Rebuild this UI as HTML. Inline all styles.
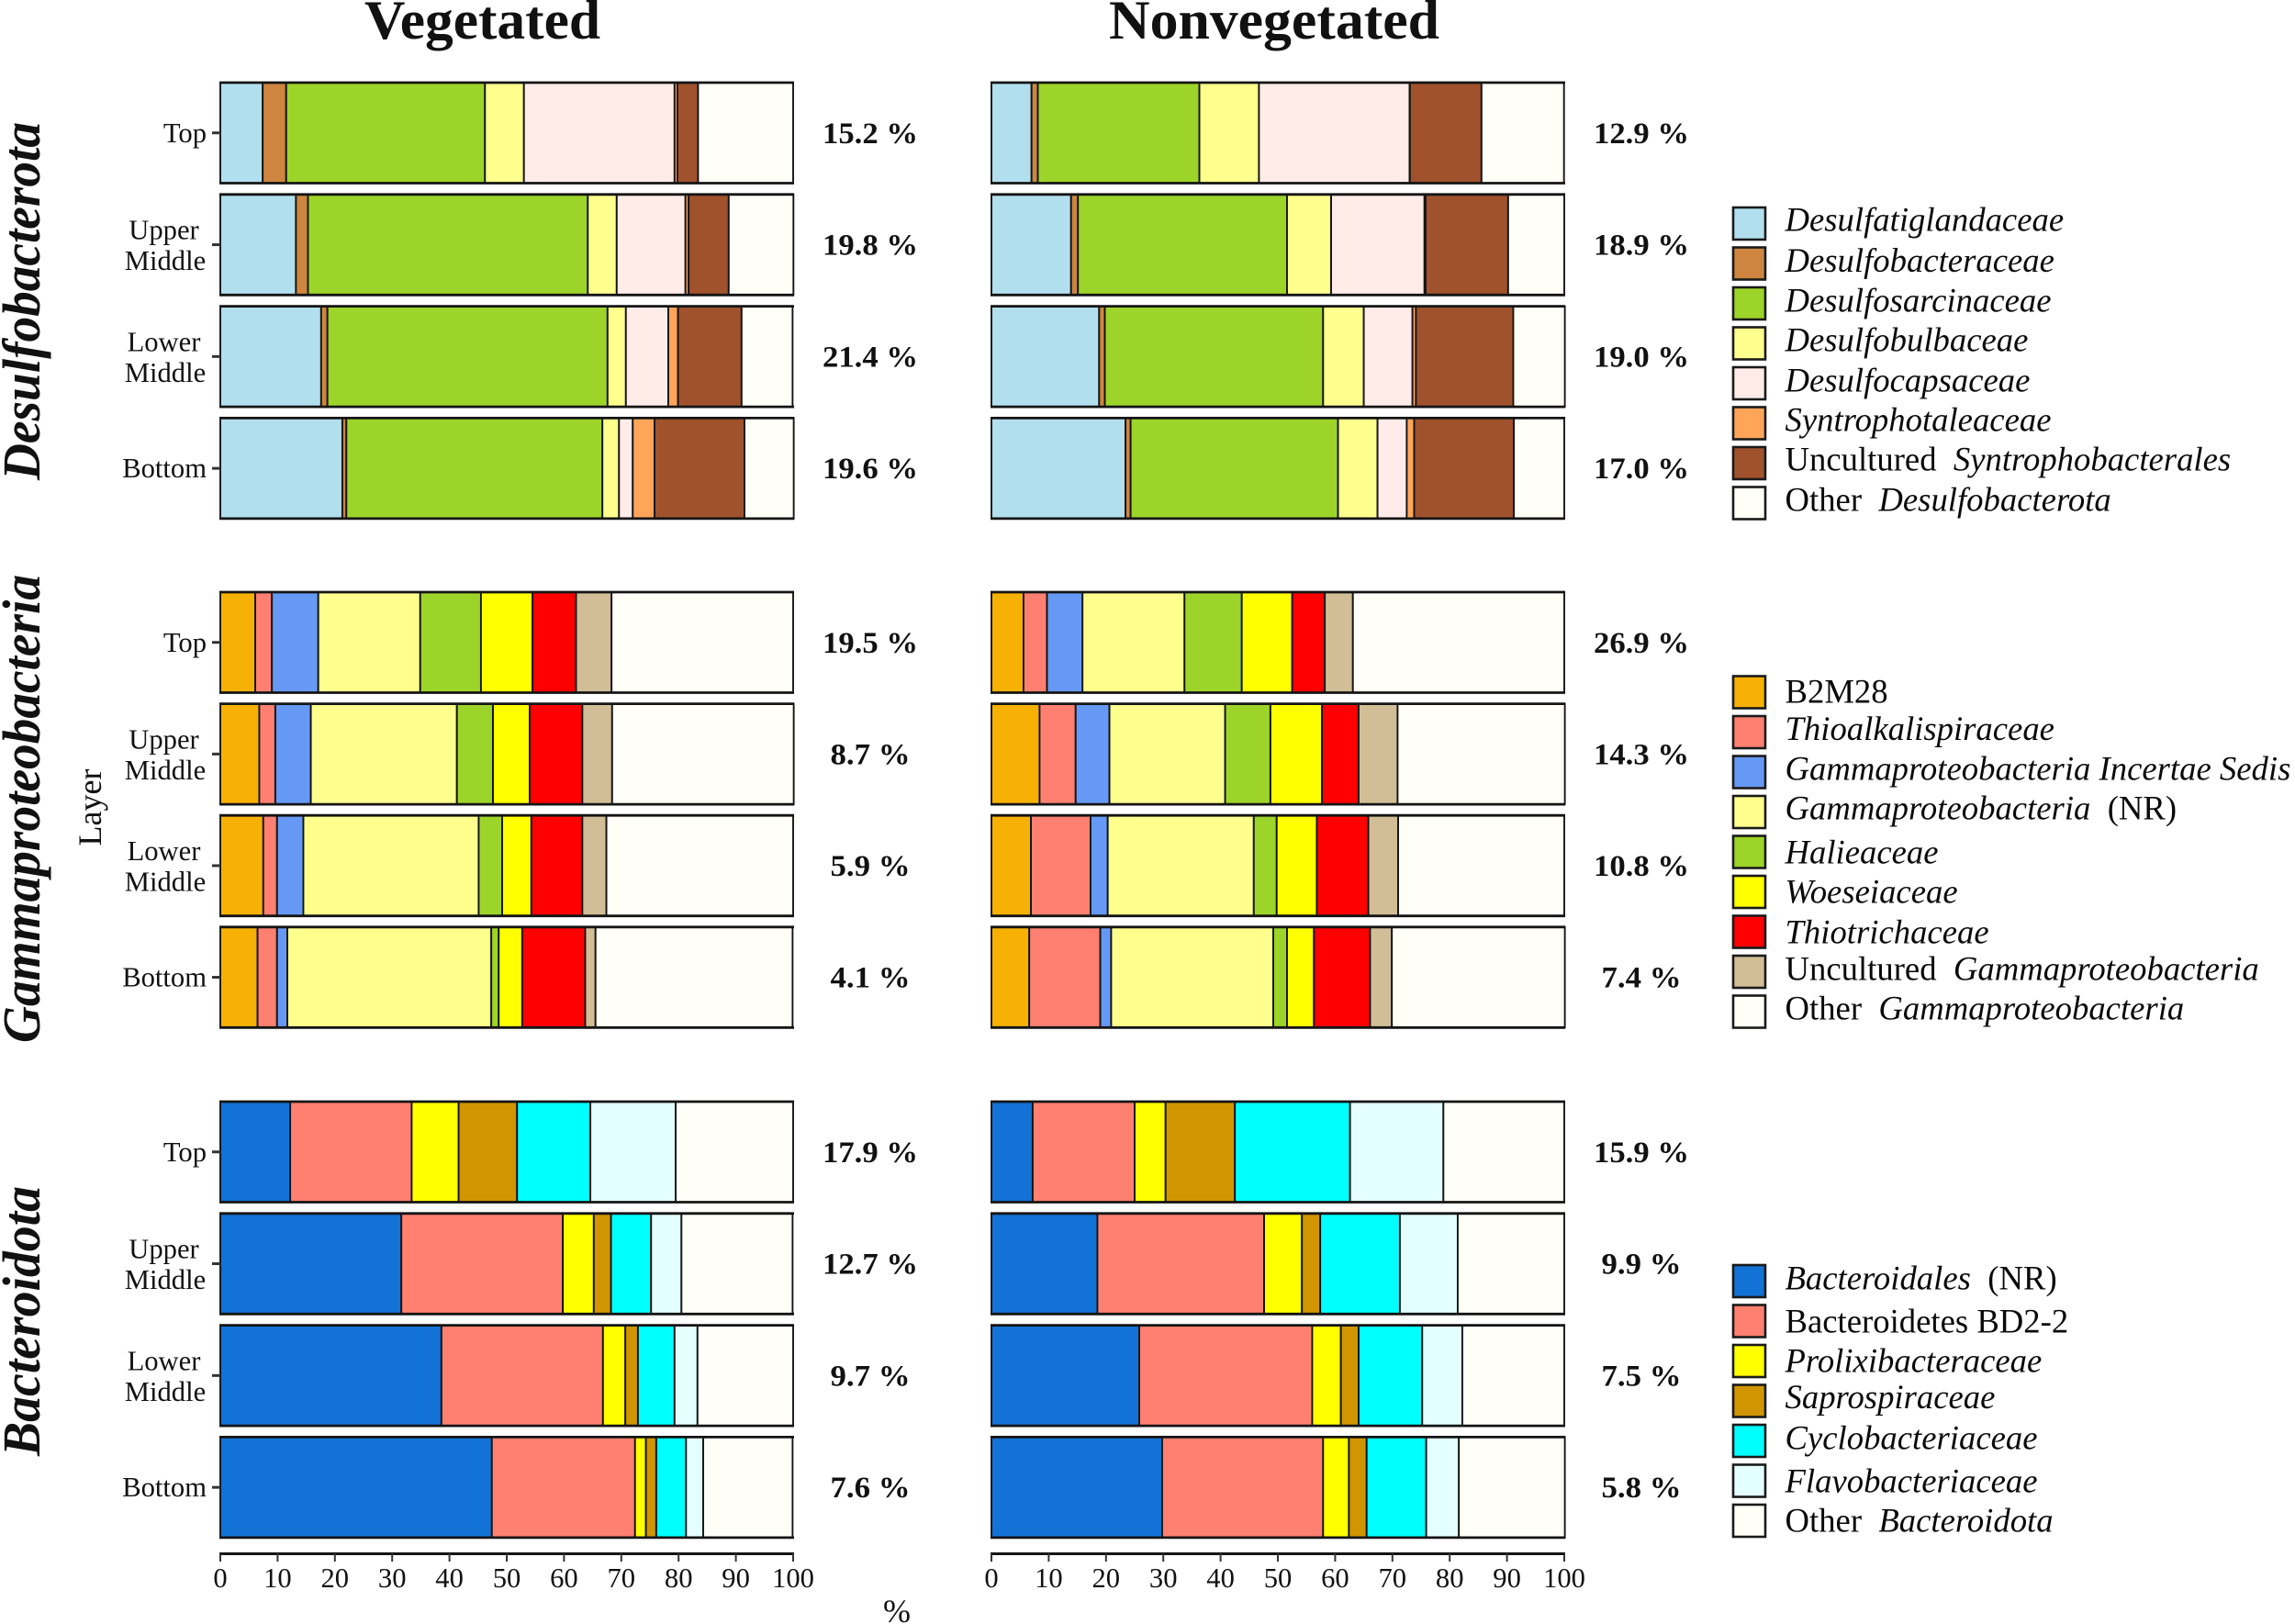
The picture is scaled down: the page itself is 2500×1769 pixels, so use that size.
<!DOCTYPE html>
<html lang="en">
<head>
<meta charset="utf-8">
<title>Vegetated and nonvegetated family composition by layer</title>
<style>
html,body{margin:0;padding:0;background:#fff;}
svg{display:block;font-family:"Liberation Serif",serif;fill:#111;}
.leg{font-size:36.7px;fill:#0a0a0a;}
.leg .i{font-style:italic;}
.sw{stroke:#1a1a1a;stroke-width:2.6;}
</style>
</head>
<body>
<svg id="chart" xmlns="http://www.w3.org/2000/svg" width="2500" height="1769" viewBox="0 0 2500 1769">
  <rect width="2500" height="1769" fill="#fff"/>

  <text x="525.5" y="42" font-size="60" font-weight="bold" text-anchor="middle" textLength="257" lengthAdjust="spacingAndGlyphs">Vegetated</text>
  <text x="1388" y="42" font-size="60" font-weight="bold" text-anchor="middle" textLength="360" lengthAdjust="spacingAndGlyphs">Nonvegetated</text>

  <text transform="translate(43,328) rotate(-90)" font-size="58" font-weight="bold" font-style="italic" text-anchor="middle" textLength="390" lengthAdjust="spacingAndGlyphs">Desulfobacterota</text>
  <text transform="translate(43,881) rotate(-90)" font-size="58" font-weight="bold" font-style="italic" text-anchor="middle" textLength="510" lengthAdjust="spacingAndGlyphs">Gammaproteobacteria</text>
  <text transform="translate(43,1439) rotate(-90)" font-size="58" font-weight="bold" font-style="italic" text-anchor="middle" textLength="294" lengthAdjust="spacingAndGlyphs">Bacteroidota</text>

  <text transform="translate(110,879.5) rotate(-90)" font-size="36" text-anchor="middle">Layer</text>
  <text x="977" y="1767" font-size="36" text-anchor="middle">%</text>

  <g>
    <rect class="sw" x="1888" y="226" width="35" height="35" fill="#B2DFEE"/>
    <text class="leg" x="1944.5" y="251.7"><tspan class="i">Desulfatiglandaceae</tspan></text>
    <rect class="sw" x="1888" y="269.5" width="35" height="35" fill="#CD853F"/>
    <text class="leg" x="1944.5" y="296"><tspan class="i">Desulfobacteraceae</tspan></text>
    <rect class="sw" x="1888" y="313" width="35" height="35" fill="#9DD429"/>
    <text class="leg" x="1944.5" y="339.3"><tspan class="i">Desulfosarcinaceae</tspan></text>
    <rect class="sw" x="1888" y="356.5" width="35" height="35" fill="#FFFF8D"/>
    <text class="leg" x="1944.5" y="382.7"><tspan class="i">Desulfobulbaceae</tspan></text>
    <rect class="sw" x="1888" y="400" width="35" height="35" fill="#FFECE9"/>
    <text class="leg" x="1944.5" y="426.7"><tspan class="i">Desulfocapsaceae</tspan></text>
    <rect class="sw" x="1888" y="443.5" width="35" height="35" fill="#FFA55A"/>
    <text class="leg" x="1944.5" y="469.3"><tspan class="i">Syntrophotaleaceae</tspan></text>
    <rect class="sw" x="1888" y="487" width="35" height="35" fill="#A0522D"/>
    <text class="leg" x="1944.5" y="512.7" xml:space="preserve">Uncultured  <tspan class="i">Syntrophobacterales</tspan></text>
    <rect class="sw" x="1888" y="530.5" width="35" height="35" fill="#FFFFF8"/>
    <text class="leg" x="1944.5" y="556.7" xml:space="preserve">Other  <tspan class="i">Desulfobacterota</tspan></text>
  </g>

  <g>
    <rect class="sw" x="1888" y="736.5" width="35" height="35" fill="#F6B104"/>
    <text class="leg" x="1944.5" y="765.7">B2M28</text>
    <rect class="sw" x="1888" y="780" width="35" height="35" fill="#FF8070"/>
    <text class="leg" x="1944.5" y="806"><tspan class="i">Thioalkalispiraceae</tspan></text>
    <rect class="sw" x="1888" y="823.5" width="35" height="35" fill="#6699F5"/>
    <text class="leg" x="1944.5" y="849.3"><tspan class="i">Gammaproteobacteria Incertae Sedis</tspan></text>
    <rect class="sw" x="1888" y="867" width="35" height="35" fill="#FFFF8D"/>
    <text class="leg" x="1944.5" y="892.7" xml:space="preserve"><tspan class="i">Gammaproteobacteria</tspan>  (NR)</text>
    <rect class="sw" x="1888" y="910.5" width="35" height="35" fill="#9DD429"/>
    <text class="leg" x="1944.5" y="940.7"><tspan class="i">Halieaceae</tspan></text>
    <rect class="sw" x="1888" y="954" width="35" height="35" fill="#FFFF00"/>
    <text class="leg" x="1944.5" y="983.3"><tspan class="i">Woeseiaceae</tspan></text>
    <rect class="sw" x="1888" y="997.5" width="35" height="35" fill="#FF0000"/>
    <text class="leg" x="1944.5" y="1027.7"><tspan class="i">Thiotrichaceae</tspan></text>
    <rect class="sw" x="1888" y="1041" width="35" height="35" fill="#D2BE96"/>
    <text class="leg" x="1944.5" y="1067.3" xml:space="preserve">Uncultured  <tspan class="i">Gammaproteobacteria</tspan></text>
    <rect class="sw" x="1888" y="1084.5" width="35" height="35" fill="#FFFFF8"/>
    <text class="leg" x="1944.5" y="1110.7" xml:space="preserve">Other  <tspan class="i">Gammaproteobacteria</tspan></text>
  </g>

  <g>
    <rect class="sw" x="1888" y="1378" width="35" height="35" fill="#1272D5"/>
    <text class="leg" x="1944.5" y="1404.3" xml:space="preserve"><tspan class="i">Bacteroidales</tspan>  (NR)</text>
    <rect class="sw" x="1888" y="1421.5" width="35" height="35" fill="#FF8070"/>
    <text class="leg" x="1944.5" y="1451.3">Bacteroidetes BD2-2</text>
    <rect class="sw" x="1888" y="1465" width="35" height="35" fill="#FFFF00"/>
    <text class="leg" x="1944.5" y="1494.7"><tspan class="i">Prolixibacteraceae</tspan></text>
    <rect class="sw" x="1888" y="1508.5" width="35" height="35" fill="#D09500"/>
    <text class="leg" x="1944.5" y="1534"><tspan class="i">Saprospiraceae</tspan></text>
    <rect class="sw" x="1888" y="1552" width="35" height="35" fill="#00FFFF"/>
    <text class="leg" x="1944.5" y="1578.3"><tspan class="i">Cyclobacteriaceae</tspan></text>
    <rect class="sw" x="1888" y="1595.5" width="35" height="35" fill="#E3FFFF"/>
    <text class="leg" x="1944.5" y="1625.7"><tspan class="i">Flavobacteriaceae</tspan></text>
    <rect class="sw" x="1888" y="1639" width="35" height="35" fill="#FFFFF8"/>
    <text class="leg" x="1944.5" y="1668.7" xml:space="preserve">Other  <tspan class="i">Bacteroidota</tspan></text>
  </g>
</svg>

<script>
// Category and tick labels
const layerNames = ['Top', 'Upper Middle', 'Lower Middle', 'Bottom'];
const xTicks = [0, 10, 20, 30, 40, 50, 60, 70, 80, 90, 100];

// Family names per phylum (stack order)
const desulfoFamilies = ['desulfatiglandaceae', 'desulfobacteraceae', 'desulfosarcinaceae', 'desulfobulbaceae', 'desulfocapsaceae', 'syntrophotaleaceae', 'uncultured-syntrophobacterales', 'other-desulfobacterota'];
const gammaFamilies = ['b2m28', 'thioalkalispiraceae', 'gammaproteobacteria-incertae-sedis', 'gammaproteobacteria-nr', 'halieaceae', 'woeseiaceae', 'thiotrichaceae', 'uncultured-gammaproteobacteria', 'other-gammaproteobacteria'];
const bacteroFamilies = ['bacteroidales-nr', 'bacteroidetes-bd2-2', 'prolixibacteraceae', 'saprospiraceae', 'cyclobacteriaceae', 'flavobacteriaceae', 'other-bacteroidota'];

// Family colours
const desulfoColors = ['#B2DFEE', '#CD853F', '#9DD429', '#FFFF8D', '#FFECE9', '#FFA55A', '#A0522D', '#FFFFF8'];
const gammaColors = ['#F6B104', '#FF8070', '#6699F5', '#FFFF8D', '#9DD429', '#FFFF00', '#FF0000', '#D2BE96', '#FFFFF8'];
const bacteroColors = ['#1272D5', '#FF8070', '#FFFF00', '#D09500', '#00FFFF', '#E3FFFF', '#FFFFF8'];

// Relative abundance (%) per layer: rows Top → Bottom, columns in family order
const desulfoVegetated = [
  [7.4, 4.1, 34.7, 6.8, 26.3, 0.5, 3.6, 16.6],
  [13.2, 2.1, 48.85, 5.05, 12.0, 0.55, 7.0, 11.3],
  [17.6, 1.1, 48.9, 3.2, 7.4, 1.7, 11.1, 8.9],
  [21.3, 0.7, 44.7, 2.9, 2.4, 3.8, 15.7, 8.6]
];
const desulfoNonvegetated = [
  [7.0, 1.1, 28.2, 10.4, 26.3, 0.05, 12.5, 14.4],
  [13.9, 1.2, 36.5, 7.7, 16.3, 0.2, 14.4, 9.8],
  [18.8, 1.0, 38.1, 7.1, 8.5, 0.6, 17.0, 9.0],
  [23.4, 0.9, 36.2, 6.9, 5.1, 1.3, 17.4, 8.8]
];
const gammaVegetated = [
  [6.1, 2.9, 8.1, 17.8, 10.6, 9.0, 7.6, 6.2, 31.7],
  [6.8, 2.8, 6.2, 25.5, 6.3, 6.4, 9.2, 5.2, 31.7],
  [7.5, 2.4, 4.6, 30.6, 4.1, 5.1, 8.9, 4.2, 32.6],
  [6.5, 3.4, 1.8, 35.6, 1.3, 4.1, 11.0, 1.8, 34.4]
];
const gammaNonvegetated = [
  [5.6, 4.1, 6.2, 17.8, 10.0, 8.8, 5.7, 4.9, 36.9],
  [8.4, 6.3, 5.9, 20.2, 7.9, 9.0, 6.4, 6.8, 29.2],
  [6.9, 10.4, 3.0, 25.5, 4.0, 7.0, 9.0, 5.2, 29.0],
  [6.6, 12.4, 1.9, 28.3, 2.4, 4.7, 9.8, 3.8, 30.2]
];
const bacteroVegetated = [
  [12.2, 21.2, 8.2, 10.2, 12.8, 14.9, 20.5],
  [31.6, 28.2, 5.4, 3.0, 7.0, 5.3, 19.4],
  [38.6, 28.2, 3.9, 2.2, 6.4, 4.0, 16.7],
  [47.4, 25.0, 1.9, 1.8, 5.2, 3.0, 15.6]
];
const bacteroNonvegetated = [
  [7.2, 17.8, 5.4, 12.1, 20.1, 16.3, 21.1],
  [18.5, 29.1, 6.6, 3.2, 13.9, 10.1, 18.6],
  [25.8, 30.2, 5.0, 3.1, 11.1, 7.0, 17.8],
  [29.8, 28.1, 4.5, 3.1, 10.4, 5.7, 18.5]
];

// Printed share of each phylum per layer (%)
const desulfoVegetatedShare = [15.2, 19.8, 21.4, 19.6];
const desulfoNonvegetatedShare = [12.9, 18.9, 19.0, 17.0];
const gammaVegetatedShare = [19.5, 8.7, 5.9, 4.1];
const gammaNonvegetatedShare = [26.9, 14.3, 10.8, 7.4];
const bacteroVegetatedShare = [17.9, 12.7, 9.7, 7.6];
const bacteroNonvegetatedShare = [15.9, 9.9, 7.5, 5.8];

const NS = 'http://www.w3.org/2000/svg';
const svg = document.getElementById('chart');
const PANEL_WIDTH = 624;
const BAR_HEIGHT = 109.5;

function xScale(panelLeft, value) {
  return panelLeft + value / 100 * PANEL_WIDTH;
}
function yScale(groupTop, pitch, rowIndex) {
  return groupTop + rowIndex * pitch;
}
function make(tag, attrs, parent) {
  const el = document.createElementNS(NS, tag);
  for (const k in attrs) el.setAttribute(k, attrs[k]);
  parent.appendChild(el);
  return el;
}
function slug(s) {
  return s.toLowerCase().replace(/ /g, '-');
}

function drawPanel(phylum, panelName, panelLeft, groupTop, pitch, rows, families, colors, shares) {
  const group = make('g', {}, svg);
  
  

  rows.forEach(function (values, r) {
    const top = yScale(groupTop, pitch, r);
    const layer = slug(layerNames[r]);
    let cumulative = 0;
    values.forEach(function (v, i) {
      const x0 = xScale(panelLeft, cumulative);
      const x1 = xScale(panelLeft, cumulative + v);
      cumulative += v;
      const seg = make('rect', { x: x0, y: top, width: Math.max(x1 - x0, 0.1), height: BAR_HEIGHT, fill: colors[i], stroke: '#141414', 'stroke-width': 1.9 }, group);
      
      
    });
    const edgeTop = make('line', { x1: panelLeft - 1, x2: panelLeft + PANEL_WIDTH + 1, y1: top, y2: top, stroke: '#141414', 'stroke-width': 2.8 }, group);
    
    
    const edgeBottom = make('line', { x1: panelLeft - 1, x2: panelLeft + PANEL_WIDTH + 1, y1: top + BAR_HEIGHT, y2: top + BAR_HEIGHT, stroke: '#141414', 'stroke-width': 2.8 }, group);
    
    

    const label = shares[r].toFixed(1) + ' %';
    const share = make('text', {
      x: panelLeft + 708, y: top + BAR_HEIGHT / 2 + 11, 'font-size': 33, 'font-weight': 'bold',
      'text-anchor': 'middle', textLength: label.length > 5 ? 104 : 87, lengthAdjust: 'spacingAndGlyphs'
    }, group);
    share.textContent = label;
    
    
  });
}

function drawLayerAxis(phylum, groupTop, pitch) {
  const group = make('g', {}, svg);
  
  
  layerNames.forEach(function (name, r) {
    const cy = yScale(groupTop, pitch, r) + BAR_HEIGHT / 2;
    const tick = make('line', { x1: 231, x2: 240, y1: cy, y2: cy, stroke: '#333', 'stroke-width': 3 }, group);
    
    
    const parts = name.split(' ');
    if (parts.length === 1) {
      const t = make('text', { x: 225, y: cy + 10, 'font-size': 30.6, 'text-anchor': 'end' }, group);
      t.textContent = name;
      
      
    } else {
      const first = make('text', { x: 178.5, y: cy - 6, 'font-size': 30.6, 'text-anchor': 'middle' }, group);
      first.textContent = parts[0];
      
      
      const second = make('text', { x: 180, y: cy + 27.5, 'font-size': 30.6, 'text-anchor': 'middle' }, group);
      second.textContent = parts[1];
      
      
    }
  });
}

function drawXAxis(panelName, panelLeft) {
  const group = make('g', {}, svg);
  
  
  const axis = make('line', { x1: panelLeft - 1, x2: panelLeft + PANEL_WIDTH + 1, y1: 1692.5, y2: 1692.5, stroke: '#141414', 'stroke-width': 3 }, group);
  
  
  xTicks.forEach(function (v) {
    const x = xScale(panelLeft, v);
    const tick = make('line', { x1: x, x2: x, y1: 1692, y2: 1701, stroke: '#333', 'stroke-width': 2 }, group);
    
    
    const t = make('text', { x: x, y: 1729, 'font-size': 30.6, 'text-anchor': 'middle' }, group);
    t.textContent = String(v);
    
    
  });
}

const LEFT_PANEL = 240;
const RIGHT_PANEL = 1080;

drawPanel('desulfobacterota', 'vegetated', LEFT_PANEL, 90, 121.8, desulfoVegetated, desulfoFamilies, desulfoColors, desulfoVegetatedShare);
drawPanel('desulfobacterota', 'nonvegetated', RIGHT_PANEL, 90, 121.8, desulfoNonvegetated, desulfoFamilies, desulfoColors, desulfoNonvegetatedShare);
drawPanel('gammaproteobacteria', 'vegetated', LEFT_PANEL, 645, 121.6, gammaVegetated, gammaFamilies, gammaColors, gammaVegetatedShare);
drawPanel('gammaproteobacteria', 'nonvegetated', RIGHT_PANEL, 645, 121.6, gammaNonvegetated, gammaFamilies, gammaColors, gammaNonvegetatedShare);
drawPanel('bacteroidota', 'vegetated', LEFT_PANEL, 1200, 121.8, bacteroVegetated, bacteroFamilies, bacteroColors, bacteroVegetatedShare);
drawPanel('bacteroidota', 'nonvegetated', RIGHT_PANEL, 1200, 121.8, bacteroNonvegetated, bacteroFamilies, bacteroColors, bacteroNonvegetatedShare);

drawLayerAxis('desulfobacterota', 90, 121.8);
drawLayerAxis('gammaproteobacteria', 645, 121.6);
drawLayerAxis('bacteroidota', 1200, 121.8);

drawXAxis('vegetated', LEFT_PANEL);
drawXAxis('nonvegetated', RIGHT_PANEL);
</script>
</body>
</html>
